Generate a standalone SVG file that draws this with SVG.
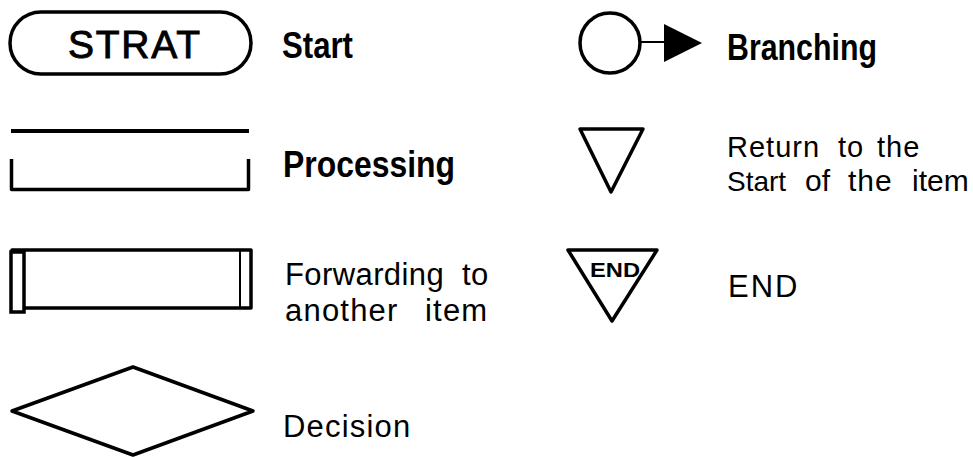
<svg xmlns="http://www.w3.org/2000/svg" width="973" height="457" viewBox="0 0 973 457">
<style>
.s{fill:none;stroke:#000;stroke-width:3.5;stroke-linejoin:round}
.t{font-family:"Liberation Sans",Arial,sans-serif;fill:#000}
.b{font-family:"Liberation Sans Narrow","Liberation Sans",Arial,sans-serif;font-weight:bold;fill:#000}
</style>
<rect width="973" height="457" fill="#fff"/>
<g id="start">
<rect class="s" x="10" y="12" width="241" height="62" rx="31"/>
<text class="t" x="68" y="58" font-size="39" stroke="#000" stroke-width="0.9" textLength="132" lengthAdjust="spacing">STRAT</text>
<text class="b" x="282" y="58" font-size="36" textLength="71" lengthAdjust="spacingAndGlyphs">Start</text>
</g>
<g id="processing">
<line x1="11" y1="131" x2="249" y2="131" stroke="#000" stroke-width="4"/>
<polyline class="s" points="11.5,159 11.5,189.5 248.5,189.5 248.5,159" stroke-linejoin="miter"/>
<text class="b" x="283" y="177" font-size="36" textLength="172" lengthAdjust="spacingAndGlyphs">Processing</text>
</g>
<g id="forwarding">
<rect class="s" x="12" y="250" width="239" height="58" stroke-linejoin="miter"/>
<rect x="11" y="252" width="13" height="60" fill="#fff" stroke="#000" stroke-width="3.5"/>
<line x1="240" y1="250" x2="240" y2="307" stroke="#000" stroke-width="2"/>
<text class="t" y="285" font-size="31" letter-spacing="0.4"><tspan x="285">Forwarding</tspan><tspan x="462">to</tspan></text>
<text class="t" y="321" font-size="31" letter-spacing="1.2"><tspan x="285">another</tspan><tspan x="425">item</tspan></text>
</g>
<g id="decision">
<polygon class="s" points="12,411 133,367 253,411 133,455"/>
<text class="t" x="283" y="437" font-size="31" letter-spacing="1.2">Decision</text>
</g>
<g id="branching">
<circle class="s" cx="610" cy="43" r="30"/>
<line x1="640" y1="42" x2="666" y2="42" stroke="#000" stroke-width="2"/>
<polygon points="664,24 702,43 664,62" fill="#000"/>
<text class="b" x="727" y="60" font-size="37" textLength="150" lengthAdjust="spacingAndGlyphs">Branching</text>
</g>
<g id="return">
<polygon class="s" points="580,129 643,129 611,192"/>
<text class="t" y="157" font-size="29" letter-spacing="1"><tspan x="727">Return</tspan><tspan x="838">to</tspan><tspan x="877">the</tspan></text>
<text class="t" y="191" font-size="28"><tspan x="727">Start</tspan><tspan x="805" font-size="30">of</tspan><tspan x="848" font-size="30" letter-spacing="1">the</tspan><tspan x="912" font-size="30">item</tspan></text>
</g>
<g id="end">
<polygon class="s" points="568,250 657,250 612,321"/>
<text class="t" x="590" y="277" font-size="21" font-weight="bold" textLength="50" lengthAdjust="spacingAndGlyphs">END</text>
<text class="t" x="728" y="297" font-size="31" letter-spacing="2">END</text>
</g>
</svg>
